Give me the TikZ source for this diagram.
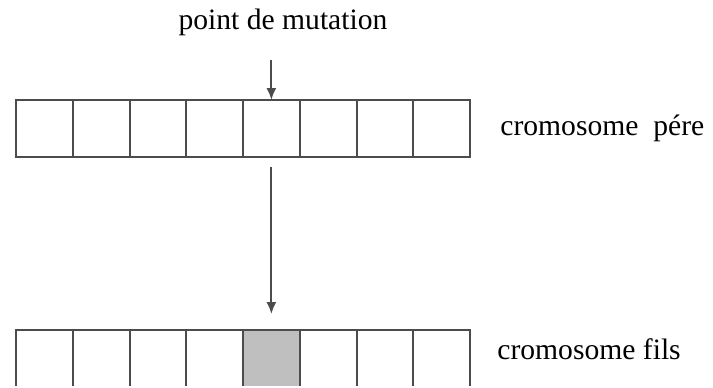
\documentclass[tikz,border=0pt]{standalone}
\usepackage{fontspec}
\setmainfont{Liberation Serif}
\usetikzlibrary{positioning}
\usetikzlibrary{arrows.meta}
\usetikzlibrary{math}

\begin{document}
\begin{tikzpicture}[x=0.5pt, y=-0.5pt,
    gene/.style={draw=black!70, line width=1pt, minimum width=28.375pt,
      minimum height=28.5pt, inner sep=0pt, outer sep=0pt},
    lbl/.style={font=\fontsize{14.8pt}{17pt}\selectfont, inner sep=0pt},
    fleche/.style={draw=black!70, line width=1pt, -{Latex[length=6pt,width=5pt]}}]
  \tikzmath{
    \xa = 16;
    \w = 56.75;
    \yP = 128.5;
    \yF = 358.5;
  }
  \useasboundingbox (0,0) rectangle (713,387);
  \clip (0,0) rectangle (713,385.5);

  % chromosome pere
  \foreach \i in {1,...,8}
    \node[gene] (p\i) at ({\xa + (\i - 0.5) * \w}, \yP) {};
  \node[lbl, right=15pt of p8] (pere) {cromosome~~pére};

  % chromosome fils
  \foreach \i in {1,...,8}
    \node[gene] (f\i) at ({\xa + (\i - 0.5) * \w}, \yF) {};
  \node[gene, fill=black!25] at (f5) {};
  \node[lbl, right=13.5pt of f8, yshift=4.5pt] (fils) {cromosome fils};

  % point de mutation
  \node[lbl] (mut) at (283, 22) {point de mutation};
  \draw[fleche, shorten <=12pt] (mut.south -| p5.north) -- (p5.north);
  \draw[fleche, shorten <=5pt, shorten >=8pt] (p5.south) -- (f5.north);
\end{tikzpicture}
\end{document}
